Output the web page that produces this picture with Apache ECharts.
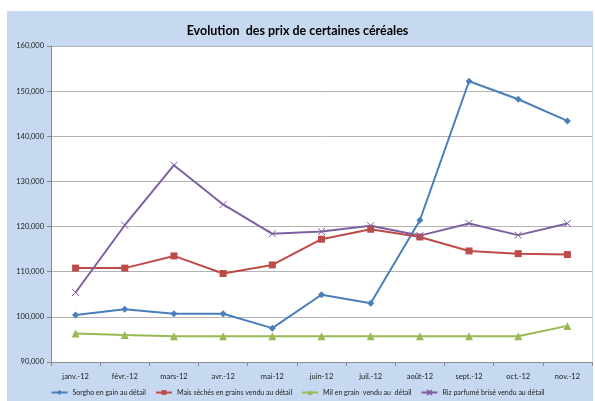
<!DOCTYPE html>
<html><head><meta charset="utf-8">
<script src="https://cdn.jsdelivr.net/npm/echarts@6/dist/echarts.min.js"></script>
<style>html,body{margin:0;padding:0;background:#fff;}#c{width:595px;height:401px;}</style>
</head><body><div id="c"></div>
<script>
const categories = ['janv.-12','févr.-12','mars-12','avr.-12','mai-12','juin-12','juil.-12','août-12','sept.-12','oct.-12','nov.-12'];
const sorgho = [100400,101700,100700,100700,97500,104900,103000,121400,152200,148200,143400];
const mais = [110800,110800,113500,109600,111500,117200,119400,117700,114600,114000,113800];
const mil = [96300,96000,95700,95700,95700,95700,95700,95700,95700,95700,98000];
const riz = [105400,120300,133600,124900,118400,118900,120200,118000,120700,118100,120700];
const seriesNames = ['Sorgho en gain au détail','Mais séchés en grains vendu au détail','Mil en grain  vendu au  détail','Riz parfumé brisé vendu au détail'];
const yMin = 90000, yMax = 160000, yStep = 10000;

const font = 'Lato, "Open Sans", sans-serif';
const chart = echarts.init(document.getElementById('c'), null, {renderer:'canvas'});
function ser(name, data, color, symbol, size, extra){
  return Object.assign({
    name, type:'line', data, symbol, symbolSize:size,
    lineStyle:{color, width:2},
    itemStyle:{color, borderColor:color, borderWidth:0},
    emphasis:{disabled:true}, animation:false
  }, extra||{});
}
chart.setOption({
  animation:false,
  graphic:[{type:'rect', left:7, top:11, shape:{width:586, height:390}, style:{fill:'#C6D9F1'}, z:-10, silent:true}],
  title:{text:'Evolution  des prix de certaines céréales', left:'center', top:19,
    textStyle:{fontFamily:font, fontSize:12.5, fontWeight:'bold', color:'#000'}},
  grid:{left:51, right:3, top:46, bottom:39, show:true, backgroundColor:'#fff', borderWidth:0},
  legend:{bottom:0, left:'center', itemWidth:16, itemHeight:6, itemGap:9,
    textStyle:{fontFamily:font, fontSize:7, color:'#222'},
    data:seriesNames},
  xAxis:{type:'category', data:categories, boundaryGap:true,
    axisLine:{lineStyle:{color:'#8a8a8a', width:1}},
    axisTick:{show:true, length:4, lineStyle:{color:'#8a8a8a'}},
    axisLabel:{fontFamily:font, fontSize:7.5, color:'#222', margin:11, interval:0}},
  yAxis:{type:'value', min:yMin, max:yMax, interval:yStep,
    axisLine:{show:true, lineStyle:{color:'#8a8a8a'}},
    axisTick:{show:true, length:4, lineStyle:{color:'#8a8a8a'}},
    splitLine:{lineStyle:{color:'#b3b3b3', width:1}},
    axisLabel:{fontFamily:font, fontSize:7.5, color:'#222', margin:7,
      formatter:v=>v.toLocaleString('en-US')}},
  series:[
    ser(seriesNames[0], sorgho, '#4A7EBB', 'diamond', 7),
    ser(seriesNames[1], mais, '#BE4B48', 'rect', 7),
    ser(seriesNames[2], mil, '#98B954', 'triangle', 8),
    ser(seriesNames[3], riz, '#7D60A0', 'path://M0,0L10,10M10,0L0,10', 7,
      {itemStyle:{color:'#7D60A0', borderColor:'#7D60A0', borderWidth:1}})
  ]
});
</script></body></html>
